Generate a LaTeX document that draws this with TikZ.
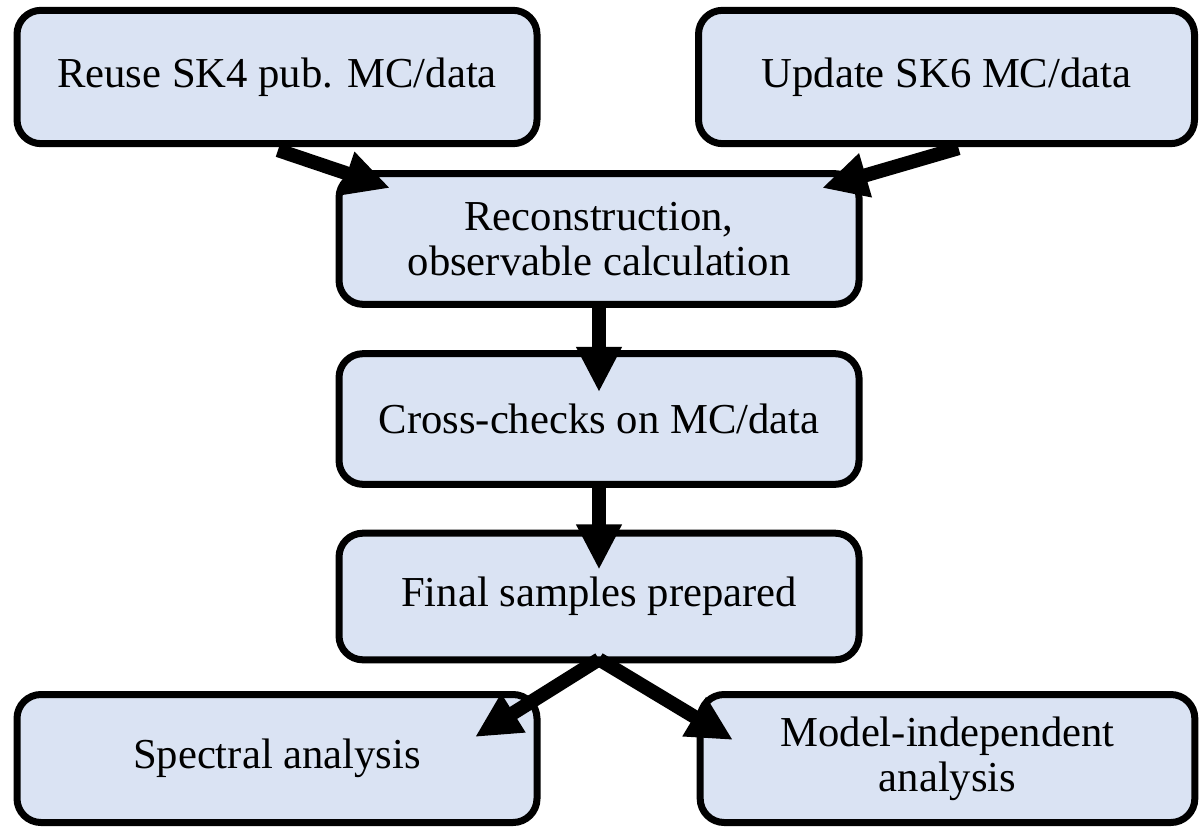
\documentclass[tikz,border=0pt]{standalone}
\usepackage{fontspec}
\setmainfont{Liberation Serif}
\usetikzlibrary{arrows.meta,calc}
\definecolor{boxfill}{HTML}{DAE3F3}
\begin{document}
\begin{tikzpicture}[x=0.75pt,y=-0.75pt,
  flowbox/.style={draw=black, line width=5.25pt, fill=boxfill, rounded corners=18pt,
    minimum width=390pt, minimum height=100pt, inner sep=0pt, align=center,
    font=\fontsize{32}{34}\selectfont},
  flowarrow/.style={line width=10.5pt, -{Triangle[length=34pt,width=32pt]}}]
\useasboundingbox (0,0) rectangle (1201,827);
\clip (0,0) rectangle (1201,827);
\node[flowbox] (A) at (277,77) {Reuse SK4 pub. MC/data};
\node[flowbox, minimum width=372pt] (B) at (946.5,77) {Update SK6 MC/data};
\node[flowbox, minimum height=98pt] (C) at (599,239) {Reconstruction,\\observable calculation};
\node[flowbox, minimum height=98pt] (D) at (599,419) {Cross-checks on MC/data};
\node[flowbox, minimum height=95pt] (E) at (599,596.5) {Final samples prepared};
\node[flowbox, minimum height=96pt] (F) at (277,758.5) {Spectral analysis};
\node[flowbox, minimum width=371pt, minimum height=96pt] (G) at (947.5,758.5) {Model-independent\\analysis};
\coordinate (tAC) at (390,188);
\coordinate (tBC) at (822,188);
\coordinate (tCD) at ($(D.north)+(0,42)$);
\coordinate (tDE) at ($(E.north)+(0,40)$);
\coordinate (tEF) at (475,737);
\coordinate (tEG) at (733,740);
\draw[flowarrow] ($(A.south)+(1,3)$) -- (tAC);
\draw[flowarrow] ($(B.south)+(12,1)$) -- (tBC);
\draw[flowarrow] (C.south) -- (tCD);
\draw[flowarrow] (D.south) -- (tDE);
\draw[flowarrow] ($(E.south)+(0,-4)$) -- (tEF);
\draw[flowarrow] ($(E.south)+(0,-4)$) -- (tEG);
\end{tikzpicture}
\end{document}
